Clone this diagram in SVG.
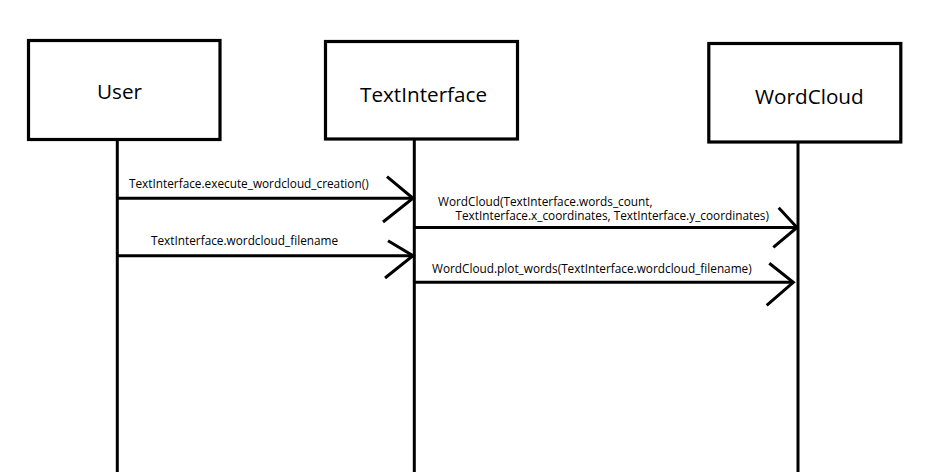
<svg xmlns="http://www.w3.org/2000/svg" width="928" height="472" viewBox="0 0 928 472">
<style>
.box{fill:#fff;stroke:#000;stroke-width:3.2}
.life{stroke:#000;stroke-width:3;fill:none}
.msg{stroke:#000;stroke-width:3;fill:none}
.head{stroke:#000;stroke-width:3;fill:none;stroke-linejoin:miter}
.title{font-family:"Open Sans","Noto Sans",sans-serif;font-size:20.7px;fill:#000}
.lbl{font-family:"Open Sans","Noto Sans",sans-serif;font-size:11.8px;fill:#000}
</style>
<rect width="928" height="472" fill="#fff"/>
<g id="node-user">
<rect class="box" x="28.5" y="40.5" width="191.5" height="99"/>
<text class="title" x="97" y="99">User</text>
<line class="life" x1="117.3" y1="141" x2="117.3" y2="472"/>
</g>
<g id="node-textinterface">
<rect class="box" x="325.5" y="41.5" width="192" height="97.5"/>
<text class="title" x="360" y="101.5">TextInterface</text>
<line class="life" x1="414.3" y1="140" x2="414.3" y2="472"/>
</g>
<g id="node-wordcloud">
<rect class="box" x="708.8" y="43.5" width="192" height="98.5"/>
<text class="title" x="755" y="104">WordCloud</text>
<line class="life" x1="798" y1="143" x2="798" y2="472"/>
</g>
<g id="connectors">
<line class="msg" x1="117" y1="198.3" x2="414" y2="198.3"/>
<polyline class="head" points="387,176.7 413,198.3 383,222"/>
<text class="lbl" x="129" y="188.3">TextInterface.execute_wordcloud_creation()</text>
<line class="msg" x1="117" y1="255.7" x2="414" y2="255.7"/>
<polyline class="head" points="388,240.7 413,255.7 385,278"/>
<text class="lbl" x="151" y="245">TextInterface.wordcloud_filename</text>
<line class="msg" x1="414" y1="227.5" x2="798" y2="227.5"/>
<polyline class="head" points="778.7,207.7 797,227.5 773.3,247.3"/>
<text class="lbl" x="438" y="205.5">WordCloud(TextInterface.words_count,</text>
<text class="lbl" x="455.5" y="220">TextInterface.x_coordinates, TextInterface.y_coordinates)</text>
<line class="msg" x1="414" y1="282.3" x2="793" y2="282.3"/>
<polyline class="head" points="769.3,263.3 793.3,282.3 766.7,305.3"/>
<text class="lbl" x="432" y="272.5">WordCloud.plot_words(TextInterface.wordcloud_filename)</text>
</g>
</svg>
